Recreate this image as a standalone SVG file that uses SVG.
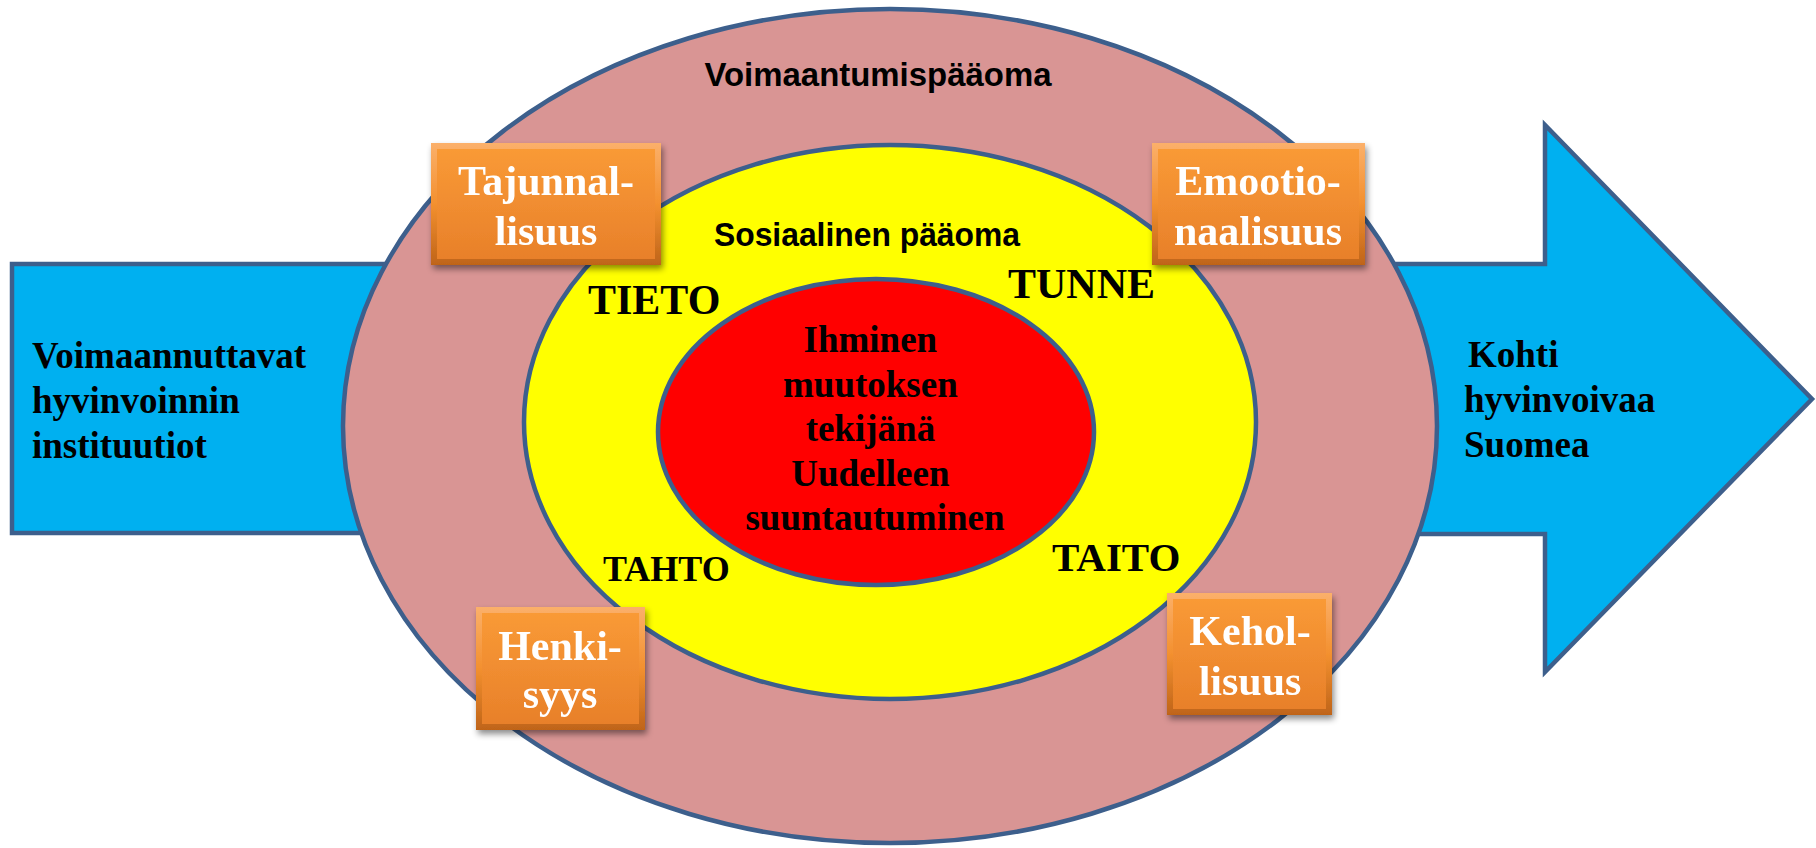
<svg xmlns="http://www.w3.org/2000/svg" width="1816" height="848" viewBox="0 0 1816 848">
  <defs>
    <style>
      .outline { stroke: #3D5F8C; stroke-width: 4.5; }
      .arrow { fill: #00B0F0; }
      .serif { font-family: "Liberation Serif", "Times New Roman", serif; font-weight: bold; }
      .sans { font-family: "Liberation Sans", Arial, sans-serif; font-weight: bold; }
      .dark { fill: #000000; }
      .boxtext { fill: #FFFFFF; font-size: 42px; text-anchor: middle; }
    </style>
    <linearGradient id="bevelOuter" x1="0" y1="0" x2="0" y2="1">
      <stop offset="0" stop-color="#FBB06A"/>
      <stop offset="0.5" stop-color="#F3902F"/>
      <stop offset="1" stop-color="#BF6419"/>
    </linearGradient>
    <linearGradient id="bevelInner" x1="0" y1="0" x2="0" y2="1">
      <stop offset="0" stop-color="#F99A36"/>
      <stop offset="1" stop-color="#E8802A"/>
    </linearGradient>
    <filter id="shadow" x="-20%" y="-20%" width="140%" height="150%">
      <feDropShadow dx="2" dy="4" stdDeviation="3" flood-color="#000000" flood-opacity="0.45"/>
    </filter>
  </defs>

  <g id="arrow-left">
    <rect class="arrow outline" x="12" y="264" width="420" height="269"/>
    <text class="serif dark" font-size="37">
      <tspan x="32" y="368">Voimaannuttavat</tspan>
      <tspan x="32" y="413">hyvinvoinnin</tspan>
      <tspan x="32" y="458">instituutiot</tspan>
    </text>
  </g>

  <g id="arrow-right">
    <polygon class="arrow outline" points="1360,264 1545,264 1545,125 1812,399 1545,672 1545,534 1360,534"/>
    <text class="serif dark" font-size="37">
      <tspan x="1468" y="367">Kohti</tspan>
      <tspan x="1464" y="412">hyvinvoivaa</tspan>
      <tspan x="1464" y="457">Suomea</tspan>
    </text>
  </g>

  <g id="voimaantumispaaoma">
    <ellipse class="outline" fill="#D99594" cx="890" cy="426" rx="547" ry="417"/>
    <text class="sans dark" x="878" y="86" font-size="34" text-anchor="middle" textLength="347" lengthAdjust="spacingAndGlyphs">Voimaantumispääoma</text>
  </g>

  <g id="sosiaalinen-paaoma">
    <ellipse class="outline" fill="#FFFF00" cx="890" cy="422" rx="366" ry="277"/>
    <text class="sans dark" x="867" y="246" font-size="34" text-anchor="middle" textLength="306" lengthAdjust="spacingAndGlyphs">Sosiaalinen pääoma</text>
  </g>

  <g id="ihminen">
    <ellipse class="outline" fill="#FF0000" cx="876" cy="432" rx="218" ry="153"/>
    <text class="serif dark" font-size="37" text-anchor="middle">
      <tspan x="875" y="352">Ihminen</tspan>
      <tspan x="875" y="397">muutoksen</tspan>
      <tspan x="875" y="441">tekijänä</tspan>
      <tspan x="875" y="486">Uudelleen</tspan>
      <tspan x="875" y="530">suuntautuminen</tspan>
    </text>
  </g>

  <g id="tieto"><text class="serif dark" x="588" y="314" font-size="42">TIETO</text></g>
  <g id="tunne"><text class="serif dark" x="1008" y="298" font-size="42">TUNNE</text></g>
  <g id="tahto"><text class="serif dark" x="603" y="581" font-size="36">TAHTO</text></g>
  <g id="taito"><text class="serif dark" x="1052" y="571" font-size="41">TAITO</text></g>

  <g id="tajunnallisuus" filter="url(#shadow)">
    <rect x="431" y="143" width="230" height="122" fill="url(#bevelOuter)"/>
    <rect x="437" y="149" width="218" height="110" fill="url(#bevelInner)"/>
    <text class="serif boxtext"><tspan x="546" y="195">Tajunnal-</tspan><tspan x="546" y="245">lisuus</tspan></text>
  </g>

  <g id="emotionaalisuus" filter="url(#shadow)">
    <rect x="1152" y="143" width="213" height="122" fill="url(#bevelOuter)"/>
    <rect x="1158" y="149" width="201" height="110" fill="url(#bevelInner)"/>
    <text class="serif boxtext"><tspan x="1258" y="195">Emootio-</tspan><tspan x="1258" y="245">naalisuus</tspan></text>
  </g>

  <g id="henkisyys" filter="url(#shadow)">
    <rect x="476" y="607" width="169" height="123" fill="url(#bevelOuter)"/>
    <rect x="482" y="613" width="157" height="111" fill="url(#bevelInner)"/>
    <text class="serif boxtext"><tspan x="560" y="660">Henki-</tspan><tspan x="560" y="708">syys</tspan></text>
  </g>

  <g id="kehollisuus" filter="url(#shadow)">
    <rect x="1167" y="593" width="165" height="122" fill="url(#bevelOuter)"/>
    <rect x="1173" y="599" width="153" height="110" fill="url(#bevelInner)"/>
    <text class="serif boxtext"><tspan x="1250" y="645">Kehol-</tspan><tspan x="1250" y="695">lisuus</tspan></text>
  </g>

  <g id="connectors"/>
</svg>
